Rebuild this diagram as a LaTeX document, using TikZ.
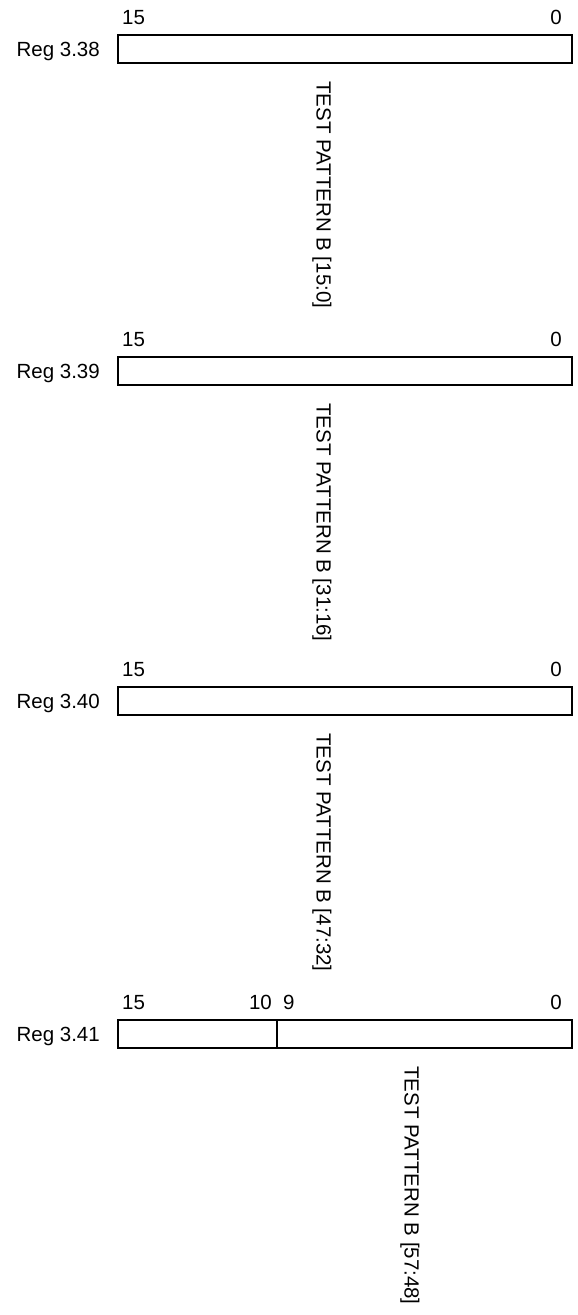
\documentclass[tikz,border=0pt]{standalone}
\usepackage{fontspec}
\setmainfont{Liberation Sans}
\begin{document}
\begin{tikzpicture}[x=1pt,y=-1pt,
  regbox/.style={draw, line width=2pt, rectangle, inner sep=0pt, minimum height=28pt},
  bitnum/.style={inner sep=0pt, font=\fontsize{20.5}{24}\selectfont},
  reglabel/.style={inner sep=0pt, anchor=base east, font=\fontsize{20.5}{24}\selectfont},
  vlabel/.style={inner sep=0pt, anchor=west, rotate=-90, font=\fontsize{20.5}{24}\selectfont}]
\useasboundingbox (0,0) rectangle (578,1315);

% Reg 3.38
\node[regbox, minimum width=454pt] (b1) at (345,49) {};
\node[reglabel] (l1) at (100,56) {Reg 3.38};
\node[bitnum, anchor=base west] (b1hi) at (122,24.5) {15};
\node[bitnum, anchor=base east] (b1lo) at (562,24.5) {0};
\node[vlabel] (t1) at (322,81) {TEST PATTERN B [15:0]};

% Reg 3.39
\node[regbox, minimum width=454pt] (b2) at (345,371) {};
\node[reglabel] (l2) at (100,378) {Reg 3.39};
\node[bitnum, anchor=base west] (b2hi) at (122,346.5) {15};
\node[bitnum, anchor=base east] (b2lo) at (562,346.5) {0};
\node[vlabel] (t2) at (322,403) {TEST PATTERN B [31:16]};

% Reg 3.40
\node[regbox, minimum width=454pt] (b3) at (345,701) {};
\node[reglabel] (l3) at (100,708) {Reg 3.40};
\node[bitnum, anchor=base west] (b3hi) at (122,676.5) {15};
\node[bitnum, anchor=base east] (b3lo) at (562,676.5) {0};
\node[vlabel] (t3) at (322,733) {TEST PATTERN B [47:32]};

% Reg 3.41
\node[regbox, minimum width=159pt] (b4a) at (197.5,1034) {};
\node[regbox, minimum width=295pt] (b4b) at (424.5,1034) {};
\node[reglabel] (l4) at (100,1041) {Reg 3.41};
\node[bitnum, anchor=base west] (b4hi) at (122,1009.5) {15};
\node[bitnum, anchor=base east] (b4m1) at (272,1009.5) {10};
\node[bitnum, anchor=base west] (b4m2) at (283,1009.5) {9};
\node[bitnum, anchor=base east] (b4lo) at (562,1009.5) {0};
\node[vlabel] (t4) at (410,1066) {TEST PATTERN B [57:48]};
\end{tikzpicture}
\end{document}
